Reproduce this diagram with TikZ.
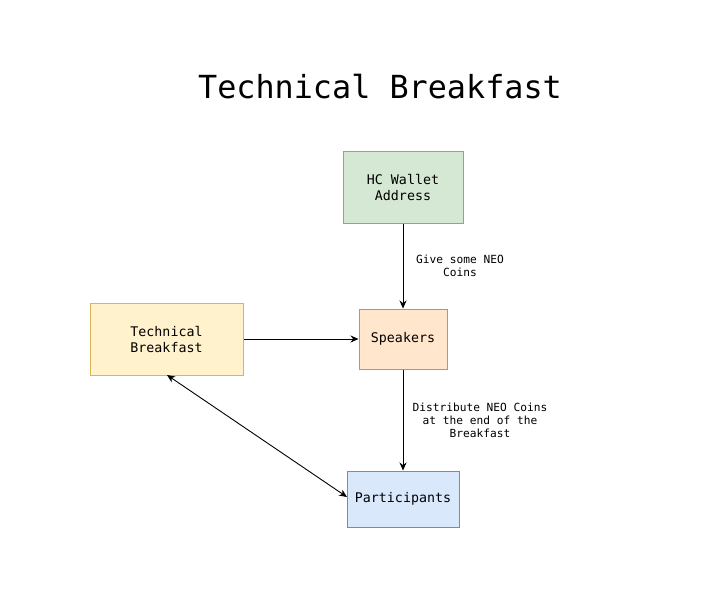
\documentclass[tikz,border=0pt]{standalone}
\usepackage{fontspec}
\newfontfamily\dmono{DejaVu Sans Mono}
\usetikzlibrary{arrows.meta}
\definecolor{gfill}{HTML}{D5E8D4}\definecolor{gline}{HTML}{82B366}
\definecolor{ofill}{HTML}{FFE6CC}\definecolor{oline}{HTML}{D79B00}
\definecolor{yfill}{HTML}{FFF2CC}\definecolor{yline}{HTML}{D6B656}
\definecolor{bfill}{HTML}{DAE8FC}\definecolor{bline}{HTML}{6C8EBF}
\begin{document}
\begin{tikzpicture}[x=1pt,y=-1pt,
  boxstyle/.style={draw, line width=1pt, inner sep=0pt, align=center,
    font=\dmono\fontsize{13.3}{16}\selectfont},
  lbl/.style={align=center, inner sep=0pt, font=\dmono\fontsize{11.2}{13}\selectfont},
  conn/.style={line width=0.9pt, -{Stealth[length=8pt,width=7pt]}},
  biconn/.style={line width=0.9pt, {Stealth[length=8pt,width=7pt]}-{Stealth[length=8pt,width=7pt]}}]
\useasboundingbox (0,0) rectangle (717,606);
\node[font=\dmono\fontsize{31.8}{36}\selectfont, inner sep=0pt] (title) at (380,87) {Technical Breakfast};
\node[boxstyle, fill=gfill, draw=gline, minimum width=120pt, minimum height=72pt] (hc) at (403,187) {HC Wallet\\Address};
\node[boxstyle, fill=ofill, draw=oline, minimum width=88pt, minimum height=60pt] (sp) at (403,339) {Speakers};
\node[boxstyle, fill=yfill, draw=yline, minimum width=153pt, minimum height=72pt] (tb) at (166.5,339) {Technical\\Breakfast};
\node[boxstyle, fill=bfill, draw=bline, minimum width=112pt, minimum height=56pt] (pa) at (403,499) {Participants};
\draw[conn] (hc.south) -- (sp.north);
\draw[conn] (sp.south) -- (pa.north);
\draw[conn] (tb.east) -- (sp.west);
\coordinate (tbb) at (167,375);
\coordinate (paw) at (347,497);
\draw[biconn] (tbb) -- (paw);
\node[lbl] (l1) at (460,266) {Give some NEO\\Coins};
\node[lbl] (l2) at (480,420) {Distribute NEO Coins\\at the end of the\\Breakfast};
\end{tikzpicture}
\end{document}
